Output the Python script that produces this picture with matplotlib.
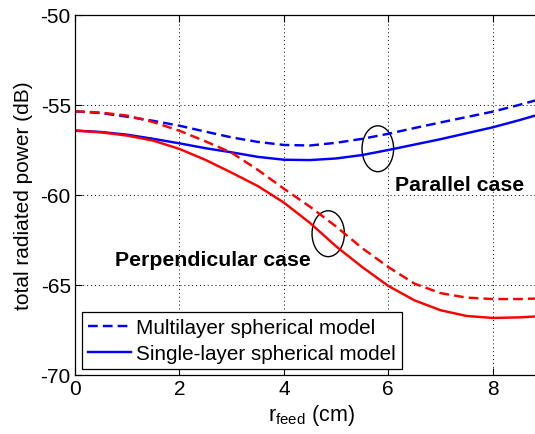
import matplotlib
matplotlib.use("Agg")
import matplotlib.pyplot as plt
from matplotlib.patches import Ellipse
import numpy as np

plt.rcParams['font.family'] = ['Liberation Sans', 'DejaVu Sans']
plt.rcParams['mathtext.fontset'] = 'custom'
plt.rcParams['mathtext.rm'] = 'Liberation Sans'

# Data
r_feed = [0, 0.5, 1, 1.5, 2, 2.5, 3, 3.5, 4, 4.5, 5, 5.5, 6, 6.5, 7, 7.5, 8, 8.5, 9, 9.5]
par_multi = [-55.35, -55.45, -55.65, -55.88, -56.15, -56.48, -56.8, -57.05, -57.22, -57.25,
             -57.1, -56.88, -56.6, -56.28, -55.97, -55.67, -55.37, -55.0, -54.6, -54.2]
par_single = [-56.42, -56.5, -56.65, -56.88, -57.13, -57.4, -57.63, -57.88, -58.04, -58.06,
              -57.97, -57.78, -57.5, -57.2, -56.9, -56.57, -56.24, -55.85, -55.43, -55.0]
perp_multi = [-55.35, -55.42, -55.59, -55.95, -56.43, -57.02, -57.65, -58.6, -59.65, -60.65,
              -61.75, -62.95, -64.0, -64.92, -65.45, -65.7, -65.78, -65.78, -65.74, -65.7]
perp_single = [-56.42, -56.52, -56.7, -56.98, -57.44, -58.05, -58.76, -59.5, -60.42, -61.55,
               -62.85, -64.0, -65.05, -65.85, -66.4, -66.72, -66.83, -66.8, -66.72, -66.65]

legend_labels = ["Multilayer spherical model", "Single-layer spherical model"]
xticks = [0, 2, 4, 6, 8]
yticks = [-70, -65, -60, -55, -50]

W, H = 535, 435
fig = plt.figure(figsize=(W / 100, H / 100), dpi=100)
AX_L, AX_B, AX_W, AX_H = 75, H - 376, 496, 360
ax = fig.add_axes([AX_L / W, AX_B / H, AX_W / W, AX_H / H])

xs = np.array(r_feed)
blue = '#0000ff'
red = '#ff0000'
lw = 1.75
dash = (4.0, 2.1)
l1, = ax.plot(xs, par_multi, color=blue, lw=lw, dashes=dash)
l2, = ax.plot(xs, par_single, color=blue, lw=lw)
ax.plot(xs, perp_multi, color=red, lw=lw, dashes=dash)
ax.plot(xs, perp_single, color=red, lw=lw)

ax.set_xlim(0, 9.5)
ax.set_ylim(-70, -50)
ax.set_xticks(xticks)
ax.set_yticks(yticks)
ax.set_xticklabels([str(t) for t in xticks])
ax.set_yticklabels([str(t) for t in yticks])
ax.tick_params(direction='in', labelsize=15, length=5, top=True, right=False,
               width=0.8, pad=3)
ax.grid(True, color='black', linestyle=(0, (1, 3)), linewidth=0.7)
for s in ax.spines.values():
    s.set_linewidth(0.9)

ax.set_ylabel("total radiated power (dB)", fontsize=15)
ax.yaxis.set_label_coords((24 - AX_L) / AX_W, 0.5)
ax.yaxis.label.set_va('center')
ax.set_xlabel(r"$\mathregular{r_{feed}}$ (cm)", fontsize=15.5)
ax.xaxis.set_label_coords((311 - AX_L) / AX_W, -40 / AX_H)
ax.xaxis.label.set_va('center')

ax.add_patch(Ellipse((5.80, -57.43), 0.605, 2.55, fill=False, edgecolor='black', lw=1.0))
ax.add_patch(Ellipse((4.85, -62.15), 0.62, 2.55, fill=False, edgecolor='black', lw=1.0))

ax.text(6.13, -59.72, "Parallel case", fontsize=15.3, fontweight='bold',
        va='baseline', ha='left')
ax.text(0.76, -63.89, "Perpendicular case", fontsize=15.3, fontweight='bold',
        va='baseline', ha='left')

leg = ax.legend([l1, l2], legend_labels, loc='lower left', fontsize=14.9,
                bbox_to_anchor=(6.7 / AX_W, 6 / AX_H), fancybox=False, edgecolor='black',
                framealpha=1, handlelength=2.08, handletextpad=0.26, borderpad=0.3,
                labelspacing=0.33, borderaxespad=0)
leg.get_frame().set_linewidth(0.9)

fig.savefig("out.png", dpi=100)
